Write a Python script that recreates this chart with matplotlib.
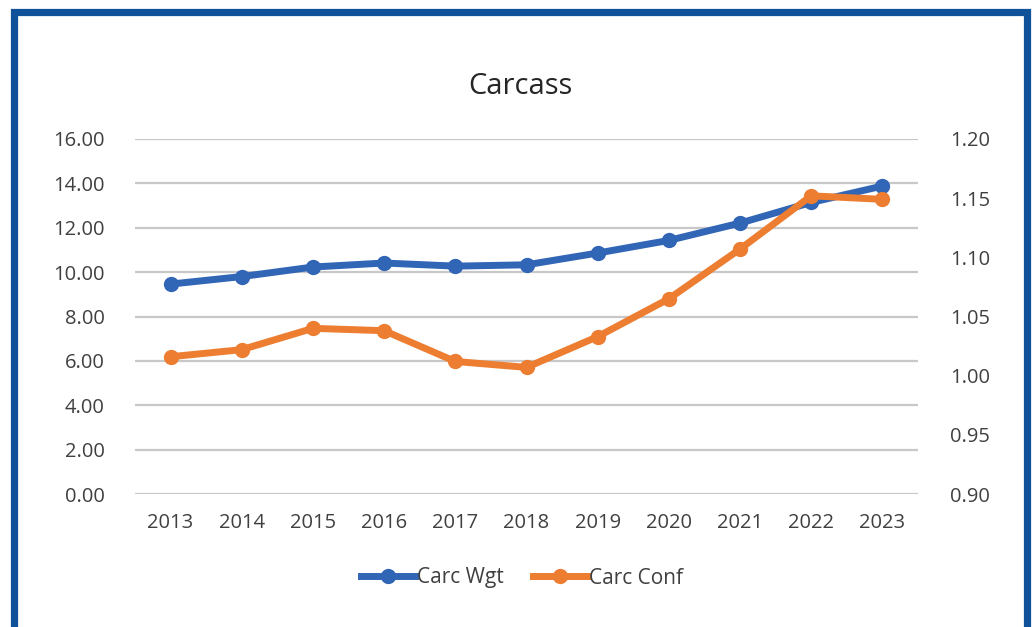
import matplotlib.pyplot as plt
from matplotlib.patches import Rectangle
from matplotlib.lines import Line2D

years = ["2013", "2014", "2015", "2016", "2017", "2018", "2019", "2020", "2021", "2022", "2023"]
carc_wgt = [9.46, 9.80, 10.23, 10.41, 10.27, 10.33, 10.86, 11.43, 12.21, 13.14, 13.88]
carc_conf = [1.016, 1.022, 1.040, 1.038, 1.012, 1.007, 1.033, 1.065, 1.107, 1.152, 1.149]

left_ticks = [0, 2, 4, 6, 8, 10, 12, 14, 16]
right_ticks = [0.90, 0.95, 1.00, 1.05, 1.10, 1.15, 1.20]

BLUE = "#3165B6"
ORANGE = "#ED7D31"
GRID = "#C8C8C8"
TEXT = "#404040"
FONT = "Open Sans"

plt.rcParams["font.family"] = [FONT, "DejaVu Sans"]

fig = plt.figure(figsize=(10.32, 6.27), dpi=100)
W, H = 1032, 627

# blue frame around the chart
fig.patches.append(Rectangle((13.5 / W, -0.05), (1026.5 - 13.5) / W, 1.05 - 12 / H,
                             transform=fig.transFigure, fill=False,
                             edgecolor="#10529A", linewidth=5.2))

ax = fig.add_axes([135 / W, 1 - 494 / H, (918 - 135) / W, (494 - 139) / H])
ax2 = ax.twinx()

x = list(range(len(years)))
ax.plot(x, carc_wgt, color=BLUE, lw=5, marker="o", ms=10, zorder=3)
ax2.plot(x, carc_conf, color=ORANGE, lw=5, marker="o", ms=10, zorder=3)

ax.set_xlim(-0.5, len(years) - 0.5)
ax.set_ylim(0, 16)
ax2.set_ylim(0.90, 1.20)
ax.set_yticks(left_ticks)
ax.set_yticklabels([f"{v:.2f}" for v in left_ticks])
ax2.set_yticks(right_ticks)
ax2.set_yticklabels([f"{v:.2f}" for v in right_ticks])
ax.set_xticks(x)
ax.set_xticklabels(years)

ax.grid(axis="y", color=GRID, lw=1.6)
ax.set_axisbelow(True)
for a in (ax, ax2):
    for s in a.spines.values():
        s.set_visible(False)
ax.tick_params(axis="y", length=0, pad=22, labelsize=14.5, labelcolor=TEXT)
ax.tick_params(axis="x", length=0, pad=14, labelsize=14.5, labelcolor=TEXT)
ax2.tick_params(axis="y", length=0, pad=23, labelsize=14.5, labelcolor=TEXT)
ax2.set_zorder(ax.get_zorder() + 1)

fig.text(520 / W, 1 - 86 / H, "Carcass", ha="center", va="center",
         fontsize=21, color="#262626")

handles = [
    Line2D([], [], color=BLUE, lw=5, marker="o", ms=10),
    Line2D([], [], color=ORANGE, lw=5, marker="o", ms=10),
]
fig.legend(handles, ["Carc Wgt", "Carc Conf"], loc="center",
           bbox_to_anchor=(522 / W, 1 - 578 / H), ncol=2, frameon=False,
           fontsize=15, handlelength=2.6, handletextpad=0.1, columnspacing=1.4,
           labelcolor=TEXT)

fig.savefig("out.png", dpi=100)
